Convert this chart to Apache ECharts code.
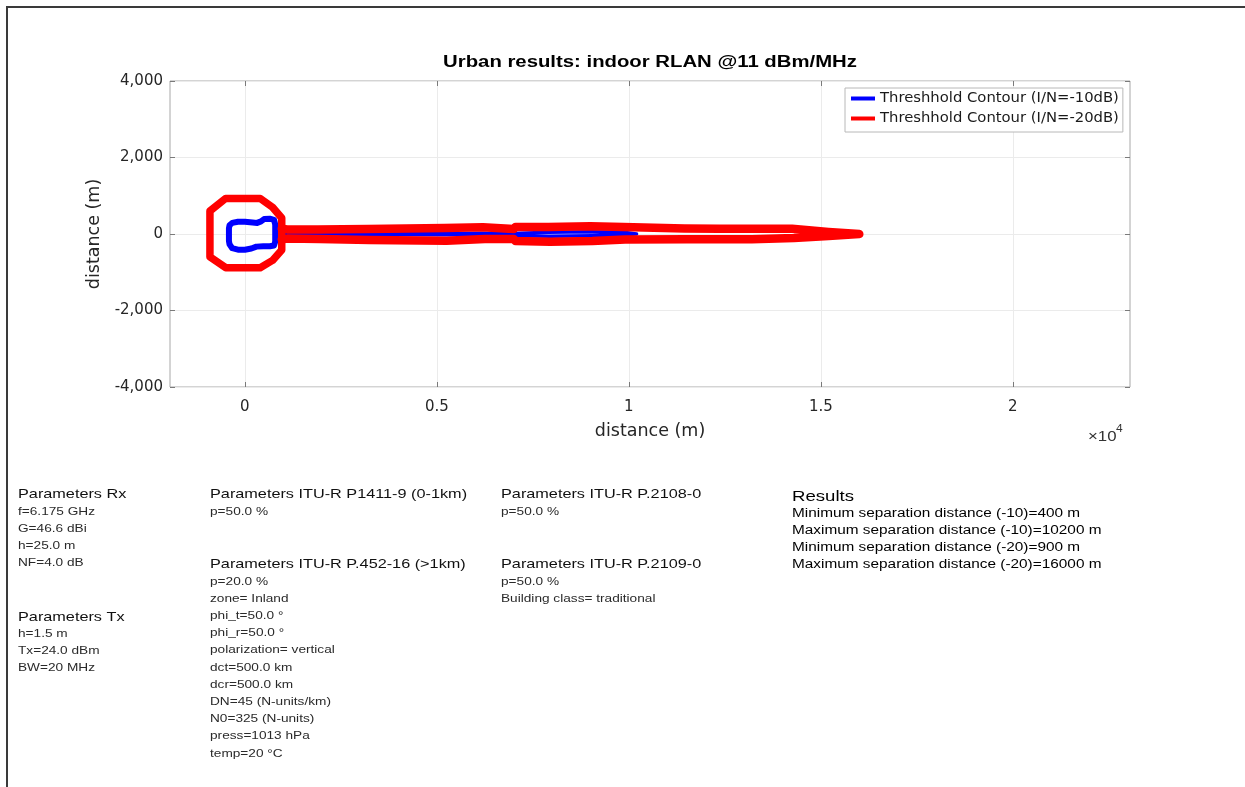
<!DOCTYPE html>
<html><head><meta charset="utf-8">
<script src="https://cdn.jsdelivr.net/npm/echarts@6/dist/echarts.min.js"></script>
<style>html,body{margin:0;padding:0;background:#fff}#c{width:1245px;height:787px}</style>
</head><body><div id="c"></div>
<script>
// ---- data (metres) ----
const xTickValues = [0, 5000, 10000, 15000, 20000];
const yTickValues = [-4000, -2000, 0, 2000, 4000];
const seriesNames = ['Threshhold Contour (I/N=-10dB)', 'Threshhold Contour (I/N=-20dB)'];

// I/N = -20 dB contour (red): ring of ~900 m
const redRingX = [960, 960, 720, 400, -500, -910, -910, -500, 400, 720, 960, 960];
const redRingY = [0, -420, -690, -880, -880, -600, 600, 930, 930, 700, 420, 0];
// I/N = -20 dB contour (red): narrow lobe out to 16000 m
const redLobeX = [960, 1100, 1900, 1950, 3200, 3250, 5200, 5250, 6200, 6250, 7000, 7050, 7900, 7950, 9000, 9050, 9850, 9900, 11450, 11500, 12350, 12400, 13150, 13200, 14250, 14300, 15200, 16000,
  15200, 14300, 14250, 13200, 13150, 12400, 12350, 11500, 11450, 9900, 9850, 9050, 9000, 7950, 7900, 7050, 7000, 6250, 6200, 5250, 5200, 3250, 3200, 1950, 1900, 1100, 960];
const redLobeY = [140, 120, 120, 130, 130, 160, 160, 175, 175, 130, 130, 185, 185, 200, 200, 185, 185, 145, 145, 140, 140, 140, 140, 135, 135, 105, 55, 0,
  -55, -105, -135, -135, -140, -140, -140, -140, -145, -145, -185, -185, -200, -200, -185, -185, -130, -130, -175, -175, -160, -160, -130, -130, -120, -120, -140];

// I/N = -10 dB contour (blue): ring of ~400 m
const blueX = [790, 760, 650, 500, 420, 320, 200, 0, -180, -330, -400, -415, -415, -400, -330, -180, 0, 170, 300, 480, 650, 760, 790, 790];
const blueY = [250, 370, 400, 390, 330, 290, 300, 320, 320, 290, 230, 150, -180, -270, -370, -410, -410, -380, -330, -320, -320, -300, -200, 250];
// I/N = -10 dB contour (blue): thin lobe out to 10200 m
const blueLobeX = [790, 1900, 3200, 3250, 5200, 5250, 6200, 6250, 7000, 7050, 7900, 7950, 9000, 9050, 9870, 9900, 10200, 9900, 9870, 9050, 9000, 7950, 7900, 7050, 7000, 6250, 6200, 5250, 5200, 3250, 3200, 1900, 790];
const blueLobeY = [0, 0, 0, 10, 10, 20, 20, 10, 10, 45, 45, 60, 60, 45, 45, 20, 0, -20, -45, -45, -60, -60, -45, -45, -10, -10, -20, -20, -10, -10, 0, 0, 0];

const titleText = 'Urban results: indoor RLAN @11 dBm/MHz';
const rxParams = ['f=6.175 GHz', 'G=46.6 dBi', 'h=25.0 m', 'NF=4.0 dB'];
const txParams = ['h=1.5 m', 'Tx=24.0 dBm', 'BW=20 MHz'];
const p1411Params = ['p=50.0 %'];
const p452Params = ['p=20.0 %', 'zone= Inland', 'phi_t=50.0 °', 'phi_r=50.0 °', 'polarization= vertical', 'dct=500.0 km', 'dcr=500.0 km', 'DN=45 (N-units/km)', 'N0=325 (N-units)', 'press=1013 hPa', 'temp=20 °C'];
const p2108Params = ['p=50.0 %'];
const p2109Params = ['p=50.0 %', 'Building class= traditional'];
const resultLines = ['Minimum separation distance (-10)=400 m', 'Maximum separation distance (-10)=10200 m', 'Minimum separation distance (-20)=900 m', 'Maximum separation distance (-20)=16000 m'];

// ---- build ----
const zip = (xs, ys) => xs.map((x, i) => [x, ys[i]]);
const SANS = '"Liberation Sans", Arial, sans-serif';
const AX = '"DejaVu Sans", sans-serif';

const graphics = [];
function txt(text, x, y, size, sx, opts) {
  opts = opts || {};
  graphics.push({
    type: 'text', x: x, y: y, scaleX: sx, silent: true,
    style: {
      text: text, fill: opts.fill || '#1a1a1a',
      font: (opts.bold ? 'bold ' : '') + size + 'px ' + SANS,
      align: opts.align || 'left', verticalAlign: 'middle'
    }
  });
}
function block(header, lines, x, y) {
  txt(header, x, y, 13, 1.25, { fill: '#111' });
  lines.forEach((l, i) => txt(l, x, y + 17.2 * (i + 1), 10.5, 1.3, { fill: '#2a2a2a' }));
}
// figure frame (top and left edges)
graphics.push({ type: 'polyline', silent: true, shape: { points: [[7, 787], [7, 7], [1245, 7]] }, style: { stroke: '#3a3a3a', lineWidth: 2, fill: null } });
txt(titleText, 650, 63, 16, 1.27, { bold: true, align: 'center', fill: '#000' });
txt('×10', 1088, 437, 14, 1.2, { fill: '#333' });
txt('4', 1116, 429, 10, 1.2, { fill: '#333' });
block('Parameters Rx', rxParams, 18, 494.5);
block('Parameters Tx', txParams, 18, 617);
block('Parameters ITU-R P1411-9 (0-1km)', p1411Params, 210, 494.5);
block('Parameters ITU-R P.452-16 (>1km)', p452Params, 210, 564.5);
block('Parameters ITU-R P.2108-0', p2108Params, 501, 494.5);
block('Parameters ITU-R P.2109-0', p2109Params, 501, 564.5);
txt('Results', 792, 497, 15, 1.24, { fill: '#000' });
resultLines.forEach((l, i) => txt(l, 792, 514 + 17 * i, 12, 1.28, { fill: '#000' }));

const chart = echarts.init(document.getElementById('c'), null, { renderer: 'canvas' });
const tickStyle = { inside: true, length: 5, lineStyle: { color: '#7a7a7a', width: 1 } };
const noLine = { show: false, onZero: false };
function lineSeries(name, data, color, width, z) {
  return {
    name: name, type: 'line', data: data, showSymbol: false, symbol: 'none',
    lineStyle: { color: color, width: width, join: 'round', cap: 'round' }, itemStyle: { color: color }, z: z
  };
}
chart.setOption({
  backgroundColor: '#fff',
  animation: false,
  grid: { left: 170, right: 115, top: 81, bottom: 400, show: true, borderColor: '#a8a8a8', borderWidth: 1, backgroundColor: '#fff' },
  legend: {
    data: seriesNames, orient: 'vertical', left: 845, top: 88,
    padding: [3, 4, 6, 6], itemGap: 5, itemWidth: 24, itemHeight: 4, icon: 'rect',
    backgroundColor: '#fff', borderColor: '#b8b8b8', borderWidth: 1, borderRadius: 0,
    textStyle: { fontFamily: AX, fontSize: 14.8, color: '#1a1a1a' }
  },
  xAxis: [{
    type: 'value', min: -1950, max: 23050, position: 'bottom',
    name: 'distance (m)', nameLocation: 'middle', nameGap: 35,
    nameTextStyle: { fontFamily: AX, fontSize: 17.5, color: '#262626' },
    axisLine: noLine,
    axisTick: Object.assign({ customValues: xTickValues }, tickStyle),
    axisLabel: { customValues: xTickValues, margin: 13, fontFamily: AX, fontSize: 15, color: '#262626', formatter: v => String(v / 10000) },
    splitLine: { show: true, lineStyle: { color: '#ebebeb', width: 1 } }
  }, {
    type: 'value', min: -1950, max: 23050, position: 'top',
    axisLine: noLine, axisLabel: { show: false }, splitLine: { show: false },
    axisTick: Object.assign({ customValues: xTickValues }, tickStyle)
  }],
  yAxis: [{
    type: 'value', min: -4000, max: 4000, interval: 2000, position: 'left',
    name: 'distance (m)', nameLocation: 'middle', nameGap: 59,
    nameTextStyle: { fontFamily: AX, fontSize: 17.5, color: '#262626' },
    axisLine: noLine,
    axisTick: Object.assign({ customValues: yTickValues }, tickStyle),
    axisLabel: { customValues: yTickValues, margin: 7, fontFamily: AX, fontSize: 15, color: '#262626', formatter: v => v.toLocaleString('en-US') },
    splitLine: { show: true, lineStyle: { color: '#ebebeb', width: 1 } }
  }, {
    type: 'value', min: -4000, max: 4000, interval: 2000, position: 'right',
    axisLine: noLine, axisLabel: { show: false }, splitLine: { show: false },
    axisTick: Object.assign({ customValues: yTickValues }, tickStyle)
  }],
  series: [
    lineSeries(seriesNames[0], zip(blueX, blueY), '#0000ff', 6, 2),
    lineSeries(seriesNames[0], zip(blueLobeX, blueLobeY), '#0000ff', 3.5, 2),
    lineSeries(seriesNames[1], zip(redRingX, redRingY), '#ff0000', 7.5, 3),
    lineSeries(seriesNames[1], zip(redLobeX, redLobeY), '#ff0000', 8.5, 3)
  ],
  graphic: { elements: graphics }
});
</script></body></html>
